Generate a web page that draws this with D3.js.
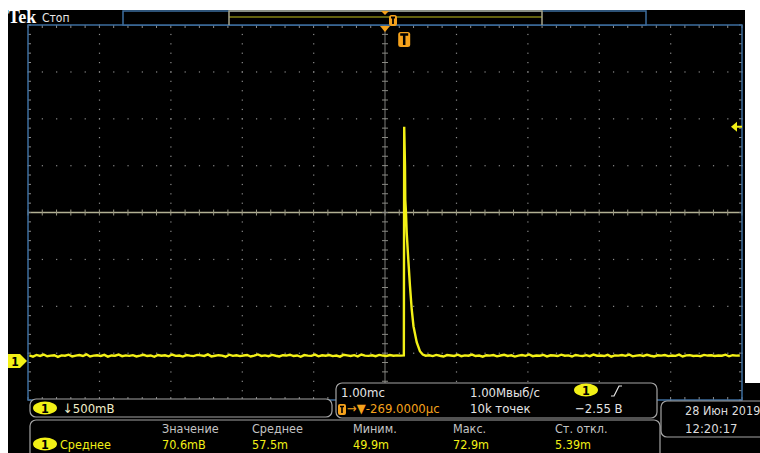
<!DOCTYPE html>
<html>
<head>
<meta charset="utf-8">
<script src="https://cdn.jsdelivr.net/npm/d3@7"></script>
<style>
  body { margin: 0; background: #fff; }
  svg { display: block; font-family: "DejaVu Sans Condensed", "DejaVu Sans", sans-serif; }
</style>
</head>
<body>
<svg id="scope" width="760" height="453"></svg>
<script>
// ---- waveform data (ms relative to trigger, mV) ----
const preStart = -5.25, postStart = 0.30, sampleStep = 0.05;
const preTrace = [
  60,48,66,55,70,52,58,63,45,61, 57,68,50,59,64,54,72,49,58,62,
  55,66,47,60,57,69,52,61,56,63, 50,58,67,54,60,46,65,57,62,51,
  70,56,59,48,64,58,53,66,61,55, 72,50,57,63,59,47,68,56,62,53,
  60,65,49,58,71,55,61,52,66,57, 50,63,59,68,54,60,46,64,58,56,
  69,51,62,57,65,53,59,48,67,61, 55,63,50,70,58,56,62,52,66,59,
  54,64,57,61,58
];
const pulse = [
  [-0.005, 60], [0.0, 2500], [0.011, 2080], [0.015, 1720], [0.025, 1585],
  [0.035, 1370], [0.057, 1085], [0.081, 800], [0.105, 553], [0.13, 372],
  [0.175, 202], [0.22, 106], [0.26, 70]
];
const postTrace = [
  58,62,53,66,57,49,64,60,55,68, 52,61,57,70,54,59,47,63,58,65,
  51,60,67,55,62,48,58,64,56,71, 53,60,57,66,50,62,59,54,68,57,
  61,49,65,58,55,63,52,69,57,60, 54,66,48,61,58,64,56,70,51,59,
  63,55,67,57,50,62,58,65,53,60, 56,69,49,61,64,55,58,52,66,59,
  62,54,60,57,68,51,63,58,60
];

// screen settings
const timePerDiv = 1.0;        // ms
const voltsPerDiv = 500;       // mV
const centerTime = -0.269;     // ms, expansion point vs trigger
const groundDiv = -3.17;       // ground marker, divisions from centre
const trigArrowMv = 2500;

// readouts
const measureHeads = ["Значение", "Среднее", "Миним.", "Макс.", "Ст. откл."];
const measureVals = ["70.6mВ", "57.5m", "49.9m", "72.9m", "5.39m"];
const measureName = "Среднее";
const chScale = "↓500mВ";
const timeRow1 = ["1.00mс", "1.00Мвыб/с"];
const timeRow2 = ["→▼-269.0000μс", "10k точек", "−2.55 В"];
const dateText = ["28 Июн 2019", "12:20:17"];

const svg = d3.select("#scope");
const plot = { left: 28, right: 742, top: 25, bottom: 400 };

const yellow = "#f2f016", orange = "#f5a21c", blue = "#3d6d9e";

// backgrounds
svg.append("rect").attr("x", 8).attr("y", 10).attr("width", 737).attr("height", 443).attr("fill", "#000");
svg.append("rect").attr("x", 655).attr("y", 383).attr("width", 105).attr("height", 70).attr("fill", "#000");

// scales
const gx = d3.scaleLinear().domain([0, 10]).range([plot.left, plot.right]);
const gy = d3.scaleLinear().domain([0, 8]).range([plot.top, plot.bottom]);
const x = d3.scaleLinear()
  .domain([centerTime - 5 * timePerDiv, centerTime + 5 * timePerDiv])
  .range([plot.left, plot.right]);
const y = d3.scaleLinear()
  .domain([(-4 - groundDiv) * voltsPerDiv, (4 - groundDiv) * voltsPerDiv])
  .range([plot.bottom, plot.top]);

// graticule
const grid = svg.append("g");
const fifths = d3.range(0, 51);
const fifthsY = d3.range(0, 41);
[1, 2, 3, 4, 6, 7, 8, 9].forEach(i => {
  grid.selectAll(null).data(fifthsY).join("rect")
    .attr("x", gx(i) - 0.5).attr("y", d => gy(d / 5) - 0.5)
    .attr("width", 1.2).attr("height", 1.2).attr("fill", "#8c8c8c");
});
[1, 2, 3, 5, 6, 7].forEach(k => {
  grid.selectAll(null).data(fifths).join("rect")
    .attr("x", d => gx(d / 5) - 0.5).attr("y", gy(k) - 0.5)
    .attr("width", 1.2).attr("height", 1.2).attr("fill", "#8c8c8c");
});
// centre lines
grid.append("line").attr("x1", plot.left).attr("x2", plot.right)
  .attr("y1", gy(4)).attr("y2", gy(4)).attr("stroke", "#b3b194").attr("stroke-width", 1.6);
grid.selectAll(null).data(fifths).join("line")
  .attr("x1", d => gx(d / 5)).attr("x2", d => gx(d / 5))
  .attr("y1", gy(4) - 3).attr("y2", gy(4) + 3).attr("stroke", "#9a9884");
grid.append("line").attr("x1", gx(5)).attr("x2", gx(5))
  .attr("y1", plot.top).attr("y2", plot.bottom).attr("stroke", "#7c7c78").attr("stroke-width", 1);
grid.selectAll(null).data(fifthsY).join("line")
  .attr("x1", gx(5) - 3).attr("x2", gx(5) + 3)
  .attr("y1", d => gy(d / 5)).attr("y2", d => gy(d / 5)).attr("stroke", "#8a8a84");
// border ticks
grid.selectAll(null).data(fifths).join("line")
  .attr("x1", d => gx(d / 5)).attr("x2", d => gx(d / 5))
  .attr("y1", plot.top).attr("y2", plot.top + 3).attr("stroke", "#8c8c8c");
grid.selectAll(null).data(fifths).join("line")
  .attr("x1", d => gx(d / 5)).attr("x2", d => gx(d / 5))
  .attr("y1", plot.bottom - 3).attr("y2", plot.bottom).attr("stroke", "#8c8c8c");
grid.selectAll(null).data(fifthsY).join("line")
  .attr("x1", plot.left).attr("x2", plot.left + 3)
  .attr("y1", d => gy(d / 5)).attr("y2", d => gy(d / 5)).attr("stroke", "#8c8c8c");
grid.selectAll(null).data(fifthsY).join("line")
  .attr("x1", plot.right - 3).attr("x2", plot.right)
  .attr("y1", d => gy(d / 5)).attr("y2", d => gy(d / 5)).attr("stroke", "#8c8c8c");

// trace
const trace = []
  .concat(preTrace.map((v, i) => ({ t: preStart + i * sampleStep, v })))
  .concat(pulse.map(p => ({ t: p[0], v: p[1] })))
  .concat(postTrace.map((v, i) => ({ t: postStart + i * sampleStep, v })));

svg.append("clipPath").attr("id", "clip").append("rect")
  .attr("x", plot.left).attr("y", plot.top)
  .attr("width", plot.right - plot.left).attr("height", plot.bottom - plot.top);

svg.append("path")
  .datum(trace)
  .attr("clip-path", "url(#clip)")
  .attr("fill", "none")
  .attr("stroke", yellow)
  .attr("stroke-width", 2.4)
  .attr("stroke-linejoin", "miter")
  .attr("d", d3.line().x(d => x(d.t)).y(d => y(d.v)));

// grid border
svg.append("rect").attr("x", plot.left).attr("y", plot.top)
  .attr("width", plot.right - plot.left).attr("height", plot.bottom - plot.top)
  .attr("fill", "none").attr("stroke", blue).attr("stroke-width", 1.5);

// record bar at the top
svg.append("rect").attr("x", 123).attr("y", 11).attr("width", 523).attr("height", 14)
  .attr("fill", "#000").attr("stroke", blue).attr("stroke-width", 1.5);
svg.append("line").attr("x1", 229).attr("x2", 542).attr("y1", 17).attr("y2", 17)
  .attr("stroke", "#c4c21c").attr("stroke-width", 1.2);
svg.append("path").attr("d", "M229,25V11H542V25").attr("fill", "none")
  .attr("stroke", "#a6a48a").attr("stroke-width", 1.5);

// "Tek Стоп"
svg.append("text").attr("x", 8).attr("y", 23).attr("fill", "#fff")
  .attr("font-family", "Liberation Serif, serif").attr("font-weight", "bold")
  .attr("font-size", 18).text("Tek");
svg.append("text").attr("x", 42).attr("y", 22).attr("fill", "#e8e8e8")
  .attr("font-size", 12).text("Стоп");

function tIcon(cx, top, w, h) {
  svg.append("rect").attr("x", cx - w / 2).attr("y", top).attr("width", w).attr("height", h)
    .attr("rx", 2.5).attr("fill", orange);
  svg.append("path")
    .attr("d", `M${cx - w / 2 + 2},${top + 2.5}H${cx + w / 2 - 2}M${cx},${top + 2.5}V${top + h - 2}`)
    .attr("stroke", "#000").attr("stroke-width", w > 10 ? 2.5 : 1.8);
}

// trigger / expansion markers
const xe = x(centerTime), xt = x(0);
svg.append("path").attr("d", `M${xe - 4},11L${xe + 4},11L${xe},15Z`).attr("fill", orange);
tIcon(393, 15, 8, 11);
svg.append("path").attr("d", `M${xe - 5},26L${xe + 5},26L${xe},32Z`).attr("fill", orange);
tIcon(xt, 32, 12, 15);

// ground marker
const yg = y(0);
svg.append("path").attr("d", `M8,${yg - 7}H20L27,${yg}L20,${yg + 7}H8Z`).attr("fill", yellow);
svg.append("text").attr("x", 15).attr("y", yg + 4.5).attr("text-anchor", "middle")
  .attr("font-size", 12).attr("font-weight", "bold").attr("fill", "#000").text("1");

// trigger level arrow
const ya = y(trigArrowMv);
svg.append("path").attr("d", `M731,${ya}L737,${ya - 5}L737,${ya + 5}Z`).attr("fill", yellow);
svg.append("line").attr("x1", 736).attr("x2", 742).attr("y1", ya).attr("y2", ya)
  .attr("stroke", yellow).attr("stroke-width", 2);

// readout panels
function panel(px, py, w, h) {
  svg.append("rect").attr("x", px).attr("y", py).attr("width", w).attr("height", h)
    .attr("rx", 6).attr("fill", "#000").attr("stroke", "#a4a4a4").attr("stroke-width", 1.2);
}
function badge(cx, cy) {
  svg.append("ellipse").attr("cx", cx).attr("cy", cy).attr("rx", 12).attr("ry", 6.5).attr("fill", yellow);
  svg.append("text").attr("x", cx).attr("y", cy + 4.5).attr("text-anchor", "middle")
    .attr("font-size", 12.5).attr("font-weight", "bold").attr("fill", "#000").text("1");
}
function label(tx, ty, str, col, size) {
  return svg.append("text").attr("x", tx).attr("y", ty).attr("fill", col)
    .attr("font-size", size || 13).text(str);
}

panel(30, 399, 302, 18);
badge(45, 408);
label(63, 413, chScale, "#f0eec8", 13);

panel(336, 383, 321, 35);
label(341, 397, timeRow1[0], "#e4e4e4");
label(470, 397, timeRow1[1], "#e4e4e4");
badge(586, 390);
svg.append("path").attr("d", "M611,396H614L619,386H622").attr("fill", "none")
  .attr("stroke", "#e4e4e4").attr("stroke-width", 1.2);
svg.append("rect").attr("x", 338).attr("y", 404).attr("width", 8).attr("height", 11).attr("rx", 2).attr("fill", orange);
svg.append("path").attr("d", "M340,406.5H344M342,406.5V413").attr("stroke", "#000").attr("stroke-width", 1.6);
label(347, 413, timeRow2[0], orange);
label(470, 413, timeRow2[1], "#e4e4e4");
label(575, 413, timeRow2[2], "#e4e4e4");

panel(661, 401, 120, 36);
label(685, 415, dateText[0], "#dcdcdc", 12.5);
label(685, 433, dateText[1], "#dcdcdc");

panel(30, 420, 630, 45);
const colX = [162, 252, 353, 453, 555];
measureHeads.forEach((h, i) => label(colX[i], 433, h, "#c4c4c4", 12.5));
badge(45, 444);
label(60, 449, measureName, yellow, 12.5);
measureVals.forEach((v, i) => label(colX[i], 449, v, yellow, 12.5));
</script>
</body>
</html>
